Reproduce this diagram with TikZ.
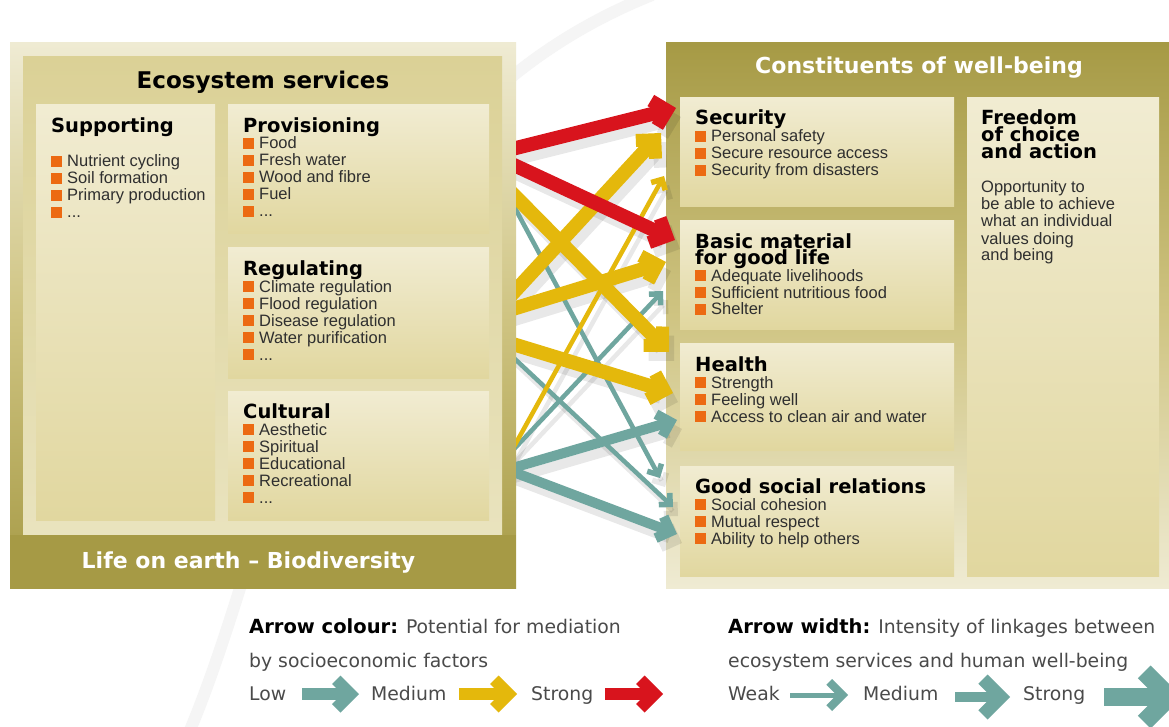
\documentclass[tikz,border=0pt]{standalone}
\usepackage{fontspec}
\setmainfont{Liberation Sans}
\newfontfamily\hdfont{DejaVu Sans}
\usetikzlibrary{arrows.meta}

\definecolor{olive}{HTML}{A69A45}
\definecolor{olivemid}{HTML}{CFC482}
\definecolor{cream}{HTML}{EFEBD3}
\definecolor{innertop}{HTML}{DBD196}
\definecolor{innerbot}{HTML}{E9E3BE}
\definecolor{boxtop}{HTML}{F1ECD2}
\definecolor{boxbot}{HTML}{E1D79F}
\definecolor{bulletc}{HTML}{EC6A12}
\definecolor{arrteal}{HTML}{6FA69F}
\definecolor{arrgold}{HTML}{E4B80C}
\definecolor{arrred}{HTML}{D8141D}
\definecolor{bodytext}{HTML}{2F2F2F}
\definecolor{legtext}{HTML}{4A4A4A}

\newcommand\bodyfont{\fontsize{16.5}{17}\selectfont}
\newcommand\headfont{\hdfont\bfseries\fontsize{19.5}{17}\selectfont}
\newcommand\legfont{\hdfont\fontsize{18.8}{20}\selectfont}
\newcommand\legbold{\hdfont\bfseries\fontsize{19.5}{20}\selectfont}
\newcommand\sq{{\color{bulletc}\rule{11pt}{11pt}}\hspace{5pt}}
\newcommand\moreitems{...}

% Chevron tip: length = half height of the head, width = thickness of its legs
\newdimen\chevtmp
\pgfdeclarearrow{
  name = Chevron,
  defaults = {length = 18pt, width = 12pt},
  parameters = {\the\pgfarrowlength,\the\pgfarrowwidth,\the\pgfarrowlinewidth},
  setup code = {
    \pgfarrowssettipend{0pt}
    \pgfmathsetlength{\chevtmp}{-1.4142*\pgfarrowwidth-0.5*\pgfarrowlinewidth+0.6pt}
    \pgfarrowssetlineend{\chevtmp}
    \pgfmathsetlength{\chevtmp}{-\pgfarrowlength-0.7071*\pgfarrowwidth}
    \pgfarrowssetbackend{\chevtmp}
    \pgfarrowssavethe\pgfarrowlength
    \pgfarrowssavethe\pgfarrowwidth
    \pgfarrowssavethe\pgfarrowlinewidth
  },
  drawing code = {
    \pgfpathmoveto{\pgfpointorigin}
    \pgfpathlineto{\pgfpoint{-\pgfarrowlength}{\pgfarrowlength}}
    \pgfpathlineto{\pgfpoint{-\pgfarrowlength-0.7071*\pgfarrowwidth}{\pgfarrowlength-0.7071*\pgfarrowwidth}}
    \pgfpathlineto{\pgfpoint{-1.4142*\pgfarrowwidth-0.5*\pgfarrowlinewidth}{0.5*\pgfarrowlinewidth}}
    \pgfpathlineto{\pgfpoint{-1.4142*\pgfarrowwidth-0.5*\pgfarrowlinewidth}{-0.5*\pgfarrowlinewidth}}
    \pgfpathlineto{\pgfpoint{-\pgfarrowlength-0.7071*\pgfarrowwidth}{-\pgfarrowlength+0.7071*\pgfarrowwidth}}
    \pgfpathlineto{\pgfpoint{-\pgfarrowlength}{-\pgfarrowlength}}
    \pgfpathclose
    \pgfusepathqfill
  }
}

% all links between services and constituents; #1 extra style, #2 offset
\newcommand\linkset[2]{%
  \draw[link,weakln,arrteal,#1] ([shift={#2}]t1a) -- ([shift={#2}]t1b);
  \draw[link,weakln,arrteal,#1] ([shift={#2}]t2a) -- ([shift={#2}]t2b);
  \draw[link,weakln,arrteal,#1] ([shift={#2}]t3a) -- ([shift={#2}]t3b);
  \draw[link,mediumln,arrteal,#1] ([shift={#2}]t4a) -- ([shift={#2}]t4b);
  \draw[link,mediumln,arrteal,#1] ([shift={#2}]t5a) -- ([shift={#2}]t5b);
  \draw[link,strongln,arrgold,#1] ([shift={#2}]y1a) -- ([shift={#2}]y1b);
  \draw[link,strongln,arrgold,#1] ([shift={#2}]y2a) -- ([shift={#2}]y2b);
  \draw[link,strongln,arrgold,#1] ([shift={#2}]y3a) -- ([shift={#2}]y3b);
  \draw[link,strongln,arrgold,#1] ([shift={#2}]y4a) -- ([shift={#2}]y4b);
  \draw[link,weakln,arrgold,#1] ([shift={#2}]y5a) -- ([shift={#2}]y5b);
  \draw[link,strongln,arrred,#1] ([shift={#2}]r1a) -- ([shift={#2}]r1b);
  \draw[link,strongln,arrred,#1] ([shift={#2}]r2a) -- ([shift={#2}]r2b);
}

\begin{document}
\begin{tikzpicture}[x=1pt, y=-1pt,
  panel/.style={inner sep=0pt, outer sep=0pt, anchor=north west},
  subbox/.style={panel, top color=boxtop, bottom color=boxbot},
  head/.style={inner sep=0pt, anchor=base west, font=\headfont, text=black},
  entry/.style={inner sep=0pt, anchor=base west, font=\bodyfont, text=bodytext},
  paneltitle/.style={inner sep=0pt, anchor=base, text=white, font=\hdfont\bfseries\fontsize{22}{24}\selectfont},
  legline/.style={inner sep=0pt, anchor=base west, font=\legfont, text=legtext},
  link/.style={shorten <=-16pt},
  strongln/.style={line width=14pt, -{Chevron[length=18pt,width=13pt]}},
  mediumln/.style={line width=10pt, -{Chevron[length=15pt,width=10pt]}},
  weakln/.style={line width=4.5pt, -{Chevron[length=10pt,width=5.5pt]}},
  legcol/.style={line width=12pt, -{Chevron[length=18.5pt,width=12pt]}},
]
\useasboundingbox (0,0) rectangle (1169,727);
\fill[white] (0,0) rectangle (1169,727);

% faint swoosh in the background
\draw[black!4, line width=12pt] (652,-5) .. controls (315,130) and (289,497) .. (188,735);

% ---------- ecosystem services panel ----------
\node[panel, minimum width=506pt, minimum height=545pt,
      top color=cream, bottom color=olive, middle color=olivemid] (eco) at (10,43) {};
\node[panel, minimum width=479pt, minimum height=478pt,
      top color=innertop, bottom color=innerbot] (ecoin) at (23,57) {};
\node[panel, fill=olive, minimum width=506pt, minimum height=53pt] (life) at (10,535) {};
\node[paneltitle] (life-t) at (248.5,568) {Life on earth – Biodiversity};
\node[inner sep=0pt, anchor=base, font=\hdfont\bfseries\fontsize{23}{25}\selectfont] (eco-t) at (263,89) {Ecosystem services};

\node[subbox, minimum width=179pt, minimum height=415pt] (supp) at (36,105) {};
\node[subbox, minimum width=261pt, minimum height=129pt] (prov) at (228,105) {};
\node[subbox, minimum width=261pt, minimum height=130pt] (reg) at (228,248) {};
\node[subbox, minimum width=261pt, minimum height=129pt] (cult) at (228,391) {};

\node[head] (supp-h) at (51,133) {Supporting};
\foreach \t [count=\i] in {Nutrient cycling,Soil formation,Primary production,\moreitems}
  \node[entry] (supp-\i) at (51,150+17*\i) {\sq\t};

\node[head] (prov-h) at (243,133) {Provisioning};
\foreach \t [count=\i] in {Food,Fresh water,Wood and fibre,Fuel,\moreitems}
  \node[entry] (prov-\i) at (243,132+17*\i) {\sq\t};

\node[head] (reg-h) at (243,275) {Regulating};
\foreach \t [count=\i] in {Climate regulation,Flood regulation,Disease regulation,Water purification,\moreitems}
  \node[entry] (reg-\i) at (243,275+17*\i) {\sq\t};

\node[head] (cult-h) at (243,418) {Cultural};
\foreach \t [count=\i] in {Aesthetic,Spiritual,Educational,Recreational,\moreitems}
  \node[entry] (cult-\i) at (243,418+17*\i) {\sq\t};

% ---------- constituents of well-being panel ----------
\node[panel, minimum width=506pt, minimum height=545pt,
      top color=olive, bottom color=cream, middle color=olivemid] (cwb) at (666,43) {};
\node[paneltitle] (cwb-t) at (919,74) {Constituents of well-being};

\node[subbox, minimum width=274pt, minimum height=109pt] (sec) at (680,98) {};
\node[subbox, minimum width=274pt, minimum height=108pt] (bas) at (680,221) {};
\node[subbox, minimum width=274pt, minimum height=107pt] (hea) at (680,343) {};
\node[subbox, minimum width=274pt, minimum height=110pt] (soc) at (680,466) {};
\node[subbox, minimum width=192pt, minimum height=478pt] (free) at (967,98) {};

\node[head] (sec-h) at (695,125) {Security};
\foreach \t [count=\i] in {Personal safety,Secure resource access,Security from disasters}
  \node[entry] (sec-\i) at (695,125+17*\i) {\sq\t};

\node[head] (bas-h1) at (695,248) {Basic material};
\node[head] (bas-h2) at (695,265) {for good life};
\foreach \t [count=\i] in {Adequate livelihoods,Sufficient nutritious food,Shelter}
  \node[entry] (bas-\i) at (695,264.5+16.8*\i) {\sq\t};

\node[head] (hea-h) at (695,371) {Health};
\foreach \t [count=\i] in {Strength,Feeling well,Access to clean air and water}
  \node[entry] (hea-\i) at (695,371+17*\i) {\sq\t};

\node[head] (soc-h) at (695,493) {Good social relations};
\foreach \t [count=\i] in {Social cohesion,Mutual respect,Ability to help others}
  \node[entry] (soc-\i) at (695,493+17*\i) {\sq\t};

\foreach \t [count=\i] in {Freedom,of choice,and action}
  \node[head] (free-h\i) at (981,108+17*\i) {\t};
\foreach \t [count=\i] in {Opportunity to,be able to achieve,what an individual,values doing,and being}
  \node[entry] (free-\i) at (981,176+17*\i) {\t};

% ---------- links ----------
\coordinate (t1a) at (516,210); \coordinate (t1b) at (660,478);
\coordinate (t2a) at (516,360); \coordinate (t2b) at (673,507);
\coordinate (t3a) at (516,447); \coordinate (t3b) at (663,291);
\coordinate (t4a) at (516,467); \coordinate (t4b) at (677,420);
\coordinate (t5a) at (516,473); \coordinate (t5b) at (677,534);
\coordinate (y1a) at (516,290); \coordinate (y1b) at (661,133);
\coordinate (y2a) at (516,197); \coordinate (y2b) at (669,352);
\coordinate (y3a) at (516,308); \coordinate (y3b) at (666,262);
\coordinate (y4a) at (516,345); \coordinate (y4b) at (673,393);
\coordinate (y5a) at (516,443); \coordinate (y5b) at (664,176);
\coordinate (r1a) at (516,148); \coordinate (r1b) at (676,108);
\coordinate (r2a) at (516,166); \coordinate (r2b) at (675,240);

\begin{scope}
  \clip (516,0) rectangle (1200,727);
  \linkset{draw=black, opacity=0.09}{(5,9)}
  \linkset{}{(0,0)}
\end{scope}

% ---------- legend ----------
\node[legline] (acol) at (249,633) {{\legbold\color{black}Arrow colour:} Potential for mediation};
\node[legline] (acol2) at (249,667) {by socioeconomic factors};
\node[legline] (clow) at (249,700) {Low};
\node[legline] (cmed) at (371,700) {Medium};
\node[legline] (cstr) at (531,700) {Strong};
\coordinate (cla) at (302,694); \coordinate (clb) at (359,694);
\coordinate (cma) at (459,694); \coordinate (cmb) at (517,694);
\coordinate (csa) at (605,694); \coordinate (csb) at (663,694);
\draw[legcol, arrteal] (cla) -- (clb);
\draw[legcol, arrgold] (cma) -- (cmb);
\draw[legcol, arrred] (csa) -- (csb);

\node[legline] (awid) at (728,633) {{\legbold\color{black}Arrow width:} Intensity of linkages between};
\node[legline] (awid2) at (728,667) {ecosystem services and human well-being};
\node[legline] (wweak) at (728,700) {Weak};
\node[legline] (wmed) at (863,700) {Medium};
\node[legline] (wstr) at (1023,700) {Strong};
\coordinate (wwa) at (790,695); \coordinate (wwb) at (848,695);
\coordinate (wma) at (955,697); \coordinate (wmb) at (1010,697);
\coordinate (wsa) at (1104,697); \coordinate (wsb) at (1182,697);
\draw[arrteal, line width=5pt, -{Chevron[length=16pt,width=8pt]}] (wwa) -- (wwb);
\draw[arrteal, line width=10pt, -{Chevron[length=22.5pt,width=13pt]}] (wma) -- (wmb);
\draw[arrteal, line width=18pt, -{Chevron[length=31.5pt,width=18pt]}] (wsa) -- (wsb);
\end{tikzpicture}
\end{document}
